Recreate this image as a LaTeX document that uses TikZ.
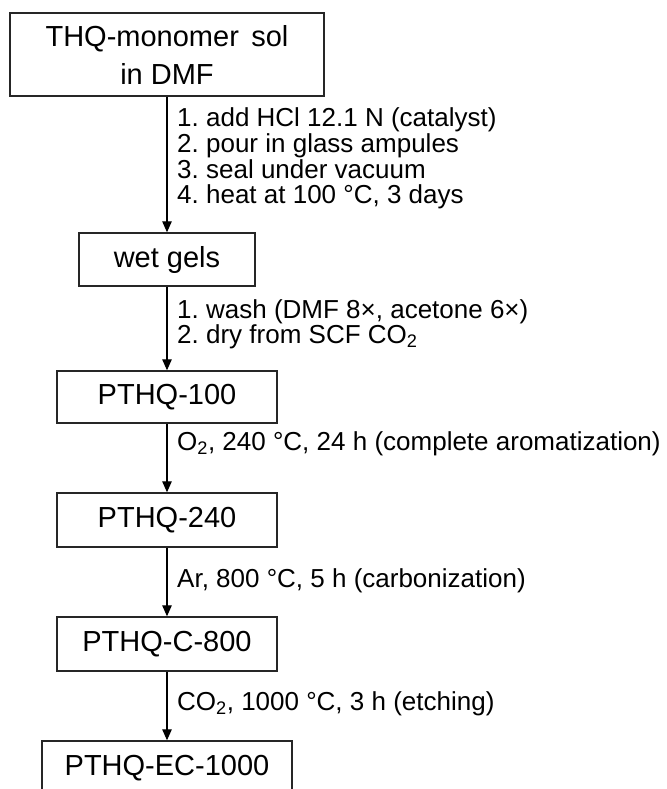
\documentclass[tikz,border=0pt]{standalone}
\usepackage{fontspec}
\setmainfont{Liberation Sans}
\usetikzlibrary{arrows.meta}
\frenchspacing
\begin{document}
\begin{tikzpicture}[x=1pt,y=-1pt,
  box/.style={draw=black!85,line width=1.4pt,inner sep=0pt,font=\fontsize{29}{38}\selectfont,align=center},
  lbl/.style={anchor=base west,inner sep=0pt,font=\fontsize{26}{26}\selectfont},
  arr/.style={line width=1.1pt,-{Triangle[length=11pt,width=9.5pt]}}]
\useasboundingbox (0,0) rectangle (666,789);
\node[box,minimum width=314pt,minimum height=83pt] (b1) at (167,54.5) {THQ-monomer\hspace{0.15em} sol\\in DMF};
\node[box,minimum width=176pt,minimum height=53pt] (b2) at (167,259.5) {wet gels};
\node[box,minimum width=220pt,minimum height=52pt] (b3) at (167,397) {PTHQ-100};
\node[box,minimum width=220pt,minimum height=54pt] (b4) at (167,520) {PTHQ-240};
\node[box,minimum width=220pt,minimum height=54pt] (b5) at (167,644) {PTHQ-C-800};
\node[box,minimum width=250pt,minimum height=54pt] (b6) at (167,768) {PTHQ-EC-1000};
\draw[arr] (b1) -- (b2);
\draw[arr] (b2) -- (b3);
\draw[arr] (b3) -- (b4);
\draw[arr] (b4) -- (b5);
\draw[arr] (b5) -- (b6);
\node[lbl] (s1a) at (177,127) {1. add HCl 12.1 N (catalyst)};
\node[lbl] (s1b) at (177,152.5) {2. pour in glass ampules};
\node[lbl] (s1c) at (177,178) {3. seal under vacuum};
\node[lbl] (s1d) at (177,203.5) {4. heat at 100 °C, 3 days};
\node[lbl] (s2a) at (177,318) {1. wash (DMF 8×, acetone 6×)};
\node[lbl] (s2b) at (177,343.5) {2. dry from SCF CO\textsubscript{2}};
\node[lbl] (s3) at (177,450) {O\textsubscript{2}, 240 °C, 24 h (complete aromatization)};
\node[lbl] (s4) at (177,587) {Ar, 800 °C, 5 h (carbonization)};
\node[lbl] (s5) at (177,710) {CO\textsubscript{2}, 1000 °C, 3 h (etching)};
\end{tikzpicture}
\end{document}
